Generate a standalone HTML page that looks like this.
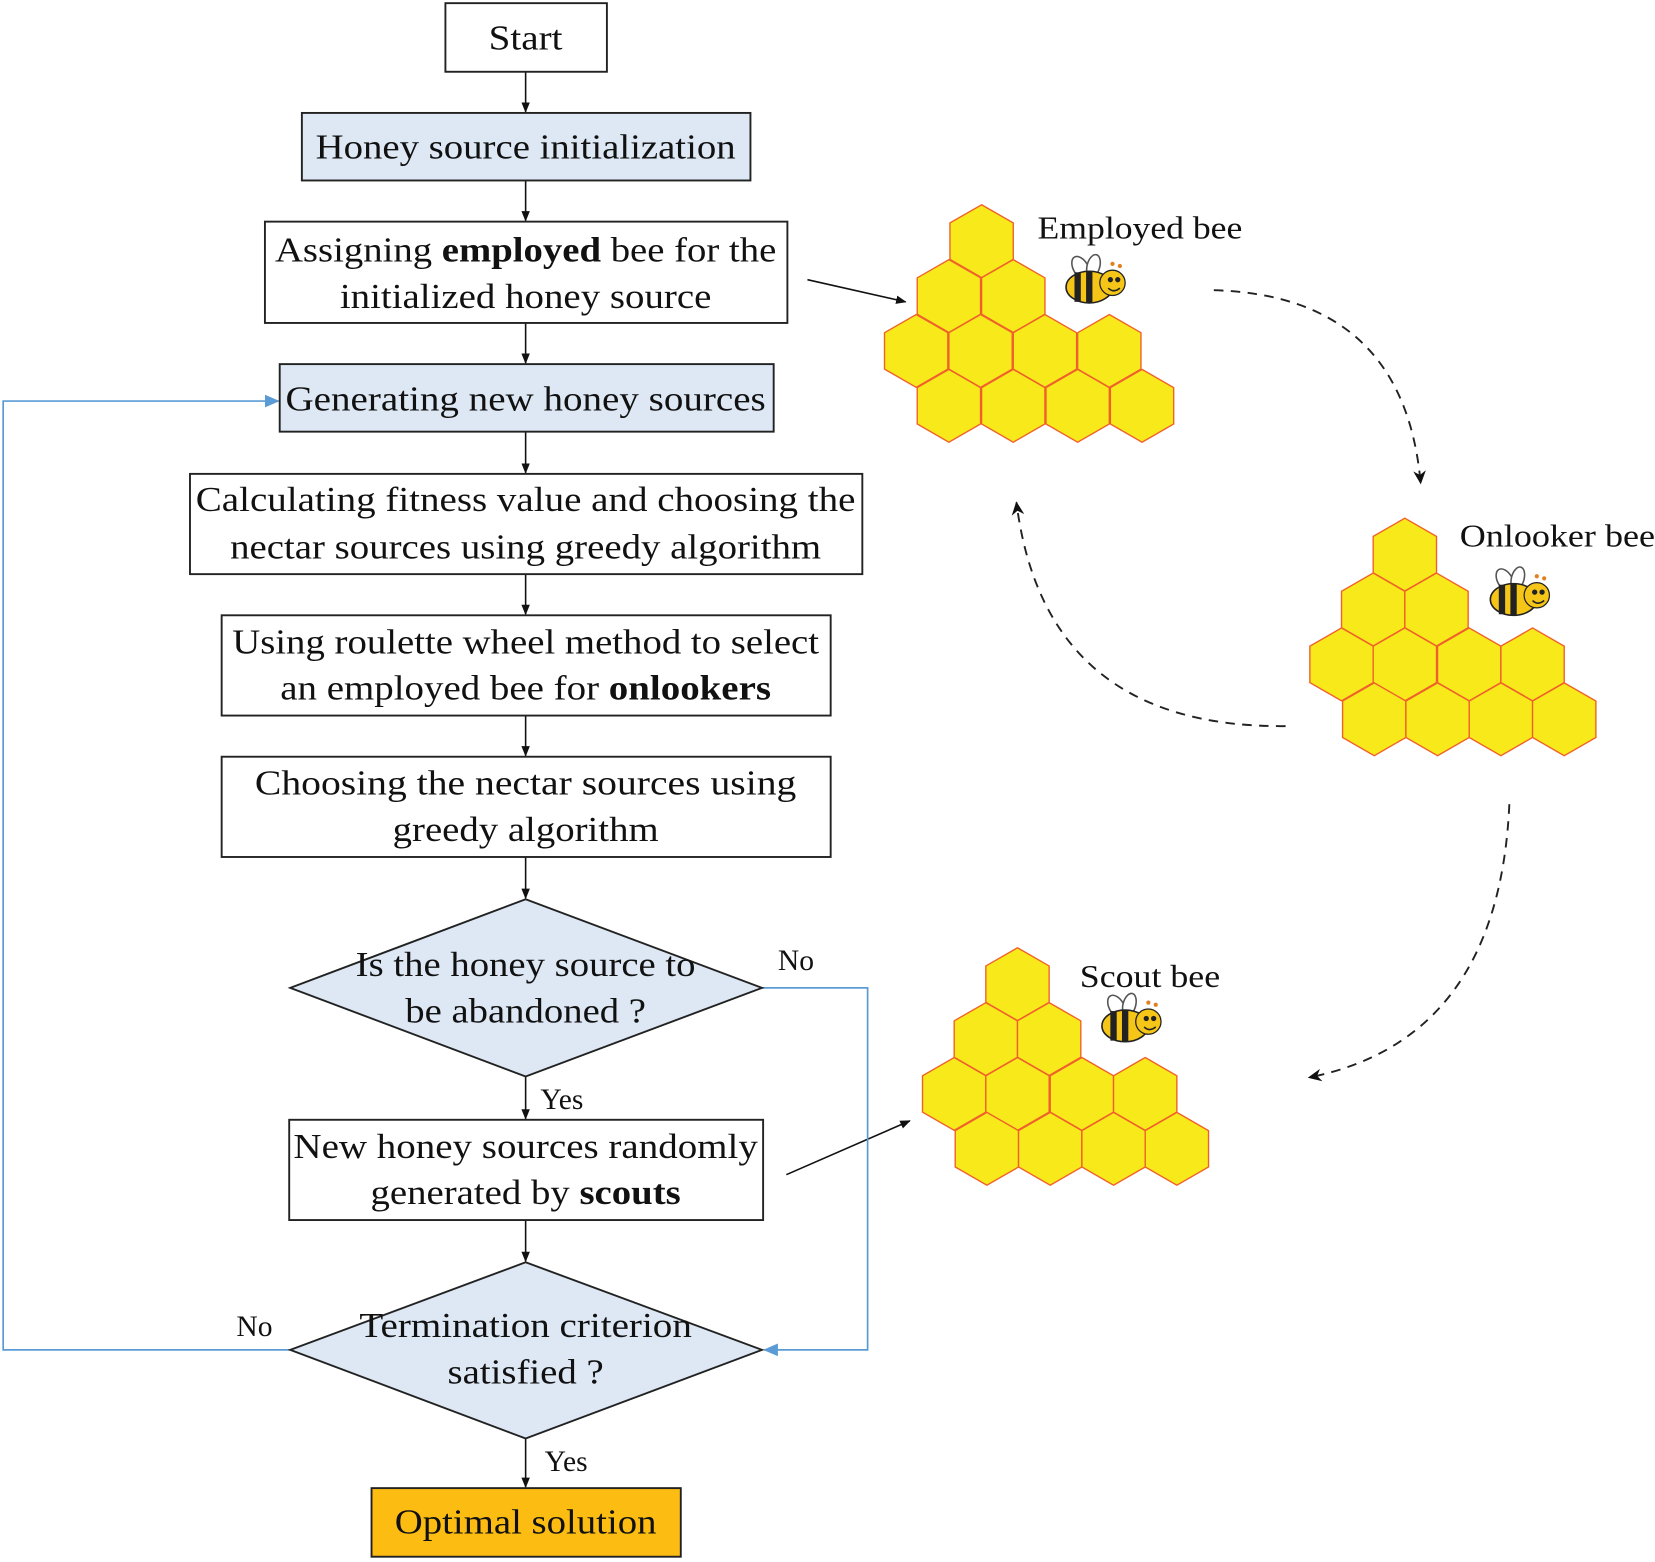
<!DOCTYPE html>
<html><head><meta charset="utf-8"><style>
html,body{margin:0;padding:0;background:#fff;}
svg{display:block;}
text{font-family:"Liberation Serif",serif;font-size:33px;fill:#111;}
</style></head><body>
<svg width="1655" height="1562" viewBox="0 0 1568 1480" preserveAspectRatio="none" xmlns="http://www.w3.org/2000/svg">
<defs>
<marker id="ah" markerWidth="10" markerHeight="10" refX="9" refY="5" orient="auto" markerUnits="userSpaceOnUse"><path d="M0,1 L10,5 L0,9 z" fill="#111"/></marker>
<marker id="ahb" markerWidth="14" markerHeight="12" refX="13" refY="6" orient="auto" markerUnits="userSpaceOnUse"><path d="M0,0 L14,6 L0,12 z" fill="#5b9bd5"/></marker>
<marker id="ahd" markerWidth="14" markerHeight="14" refX="12" refY="7" orient="auto" markerUnits="userSpaceOnUse"><path d="M0,1 L13,7 L0,13 L4,7 z" fill="#111"/></marker>
<polygon id="hx" points="0,-34.5 30,-17.25 30,17.25 0,34.5 -30,17.25 -30,-17.25" fill="#f7e91a" stroke="#f0602a" stroke-width="1.3"/>
<g id="bee">
<ellipse cx="-8" cy="-18" rx="7" ry="12" fill="#fff" stroke="#555" stroke-width="1.5" transform="rotate(-30 -8 -18)"/>
<ellipse cx="4" cy="-20" rx="6" ry="11" fill="#fff" stroke="#555" stroke-width="1.5" transform="rotate(15 4 -20)"/>
<ellipse cx="0" cy="0" rx="22" ry="15" fill="#f5c518" stroke="#222" stroke-width="1.5"/>
<rect x="-14" y="-14" width="6" height="28" fill="#222"/>
<rect x="-3" y="-15" width="6" height="30" fill="#222"/>
<circle cx="22" cy="-4" r="12" fill="#f5c518" stroke="#222" stroke-width="1.2"/>
<circle cx="20" cy="-7" r="2.5" fill="#222"/><circle cx="27" cy="-7" r="2.5" fill="#222"/>
<path d="M18,1 Q23,6 29,1" fill="none" stroke="#222" stroke-width="1.5"/>
<circle cx="22" cy="-22" r="2" fill="#e08020"/><circle cx="29" cy="-20" r="2" fill="#e08020"/>
</g>
</defs>

<!-- vertical connectors -->
<g stroke="#111" stroke-width="1.5" fill="none" marker-end="url(#ah)">
<line x1="498" y1="68" x2="498" y2="106"/>
<line x1="498" y1="171" x2="498" y2="209"/>
<line x1="498" y1="306" x2="498" y2="344"/>
<line x1="498" y1="409" x2="498" y2="448"/>
<line x1="498" y1="544" x2="498" y2="582"/>
<line x1="498" y1="678" x2="498" y2="716"/>
<line x1="498" y1="812" x2="498" y2="851"/>
<line x1="498" y1="1020" x2="498" y2="1060"/>
<line x1="498" y1="1156" x2="498" y2="1195"/>
<line x1="498" y1="1363" x2="498" y2="1409"/>
<line x1="765" y1="265" x2="858" y2="286"/>
<line x1="745" y1="1113" x2="862" y2="1062"/>
</g>

<!-- blue loops -->
<polyline points="275,1279 3,1279 3,380 264,380" fill="none" stroke="#5b9bd5" stroke-width="1.6" marker-end="url(#ahb)"/>
<polyline points="722,936 822,936 822,1279 724,1279" fill="none" stroke="#5b9bd5" stroke-width="1.6" marker-end="url(#ahb)"/>

<!-- boxes -->
<g stroke="#222" stroke-width="1.8">
<rect x="422" y="3" width="153" height="65" fill="#fff"/>
<rect x="286" y="107" width="425" height="64" fill="#dde8f4"/>
<rect x="251" y="210" width="495" height="96" fill="#fff"/>
<rect x="265" y="345" width="468" height="64" fill="#dde8f4"/>
<rect x="180" y="449" width="637" height="95" fill="#fff"/>
<rect x="210" y="583" width="577" height="95" fill="#fff"/>
<rect x="210" y="717" width="577" height="95" fill="#fff"/>
<polygon points="498,852 722,936 498,1020 275,936" fill="#dde8f4"/>
<rect x="274" y="1061" width="449" height="95" fill="#fff"/>
<polygon points="498,1196 722,1279 498,1363 275,1279" fill="#dde8f4"/>
<rect x="352" y="1410" width="293" height="65" fill="#fdbc12"/>
</g>

<!-- box texts -->
<g text-anchor="middle">
<text x="498" y="47" textLength="70" lengthAdjust="spacingAndGlyphs">Start</text>
<text x="498" y="150" textLength="398" lengthAdjust="spacingAndGlyphs">Honey source initialization</text>
<text x="498" y="248" textLength="475" lengthAdjust="spacingAndGlyphs">Assigning <tspan font-weight="bold">employed</tspan> bee for the</text>
<text x="498" y="292" textLength="352" lengthAdjust="spacingAndGlyphs">initialized honey source</text>
<text x="498" y="389" textLength="455" lengthAdjust="spacingAndGlyphs">Generating new honey sources</text>
<text x="498" y="484" textLength="625" lengthAdjust="spacingAndGlyphs">Calculating fitness value and choosing the</text>
<text x="498" y="529" textLength="560" lengthAdjust="spacingAndGlyphs">nectar sources using greedy algorithm</text>
<text x="498" y="619" textLength="556" lengthAdjust="spacingAndGlyphs">Using roulette wheel method to select</text>
<text x="498" y="663" textLength="465" lengthAdjust="spacingAndGlyphs">an employed bee for <tspan font-weight="bold">onlookers</tspan></text>
<text x="498" y="753" textLength="513" lengthAdjust="spacingAndGlyphs">Choosing the  nectar sources using</text>
<text x="498" y="797" textLength="252" lengthAdjust="spacingAndGlyphs">greedy algorithm</text>
<text x="498" y="925" textLength="322" lengthAdjust="spacingAndGlyphs">Is the honey source to</text>
<text x="498" y="969" textLength="228" lengthAdjust="spacingAndGlyphs">be abandoned ?</text>
<text x="498" y="1097" textLength="440" lengthAdjust="spacingAndGlyphs">New honey sources randomly</text>
<text x="498" y="1141" textLength="294" lengthAdjust="spacingAndGlyphs">generated by <tspan font-weight="bold">scouts</tspan></text>
<text x="498" y="1267" textLength="315" lengthAdjust="spacingAndGlyphs">Termination criterion</text>
<text x="498" y="1311" textLength="148" lengthAdjust="spacingAndGlyphs">satisfied ?</text>
<text x="498" y="1453" textLength="248" lengthAdjust="spacingAndGlyphs">Optimal solution</text>
</g>
<g font-size="28">
<text x="737" y="919" style="font-size:28px">No</text>
<text x="512" y="1051" style="font-size:28px">Yes</text>
<text x="224" y="1266" style="font-size:28px">No</text>
<text x="516" y="1394" style="font-size:28px">Yes</text>
<text x="983" y="226" style="font-size:30px" textLength="194" lengthAdjust="spacingAndGlyphs">Employed bee</text>
<text x="1383" y="518" style="font-size:30px" textLength="185" lengthAdjust="spacingAndGlyphs">Onlooker bee</text>
<text x="1023" y="935" style="font-size:30px" textLength="133" lengthAdjust="spacingAndGlyphs">Scout bee</text>
</g>

<!-- honeycombs -->
<g>
<use href="#hx" x="930" y="228.5"/>
<use href="#hx" x="899" y="280.5"/><use href="#hx" x="960" y="280.5"/>
<use href="#hx" x="868" y="332.5"/><use href="#hx" x="929" y="332.5"/><use href="#hx" x="990" y="332.5"/><use href="#hx" x="1051" y="332.5"/>
<use href="#hx" x="899" y="384.5"/><use href="#hx" x="960" y="384.5"/><use href="#hx" x="1021" y="384.5"/><use href="#hx" x="1082" y="384.5"/>

<use href="#hx" x="1331" y="525.5"/>
<use href="#hx" x="1301" y="577.5"/><use href="#hx" x="1361" y="577.5"/>
<use href="#hx" x="1271" y="629.5"/><use href="#hx" x="1331" y="629.5"/><use href="#hx" x="1392" y="629.5"/><use href="#hx" x="1452" y="629.5"/>
<use href="#hx" x="1302" y="681.5"/><use href="#hx" x="1362" y="681.5"/><use href="#hx" x="1422" y="681.5"/><use href="#hx" x="1482" y="681.5"/>

<use href="#hx" x="964" y="932.5"/>
<use href="#hx" x="934" y="984.5"/><use href="#hx" x="994" y="984.5"/>
<use href="#hx" x="904" y="1036.5"/><use href="#hx" x="964" y="1036.5"/><use href="#hx" x="1025" y="1036.5"/><use href="#hx" x="1085" y="1036.5"/>
<use href="#hx" x="935" y="1088.5"/><use href="#hx" x="995" y="1088.5"/><use href="#hx" x="1055" y="1088.5"/><use href="#hx" x="1115" y="1088.5"/>
</g>

<use href="#bee" x="1032" y="272"/>
<use href="#bee" x="1434" y="568"/>
<use href="#bee" x="1066" y="972"/>

<!-- dashed cycle -->
<g fill="none" stroke="#222" stroke-width="1.8" stroke-dasharray="9,7">
<path d="M1150,275 Q1330,280 1346,458" marker-end="url(#ahd)"/>
<path d="M1218,688 Q990,690 963,476" marker-end="url(#ahd)"/>
<path d="M1430,762 Q1420,985 1240,1021" marker-end="url(#ahd)"/>
</g>
</svg>
</body></html>
